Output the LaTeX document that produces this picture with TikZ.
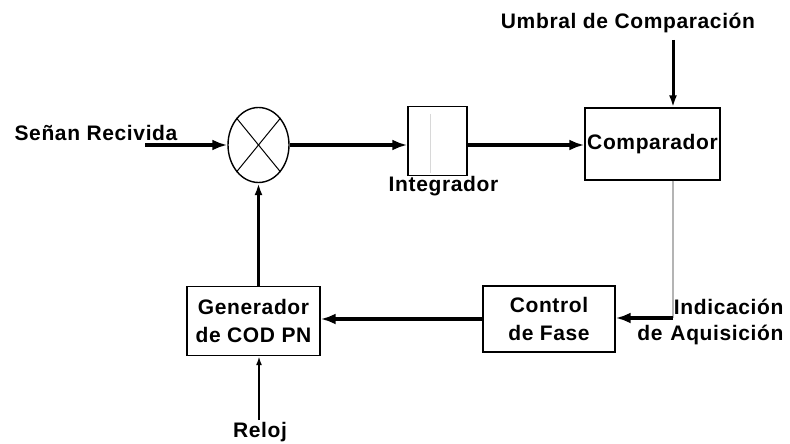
\documentclass[tikz,border=0pt]{standalone}
\usepackage{fontspec}
\setmainfont[LetterSpace=3]{Liberation Sans}
\usetikzlibrary{arrows.meta,positioning,shapes.geometric}
\definecolor{dgGray}{HTML}{B4B4B4}
\definecolor{dgFaint}{HTML}{D8D8D8}

\begin{document}
\begin{tikzpicture}[x=1pt, y=-1pt, font=\bfseries\fontsize{21}{28}\selectfont,
    blockbox/.style={draw, line width=1.4pt, align=center, inner sep=2pt},
    sig/.style={line width=4.5pt, -{Latex[length=15pt,width=11pt]}},
    sigthin/.style={line width=3pt, -{Latex[length=12pt,width=8pt]}}]
  \useasboundingbox (0,0) rectangle (790,444);
  \node[draw, line width=1.4pt, ellipse, minimum width=61pt, minimum height=75pt] (mix) at (258.5,145) {};
  \draw[line width=1pt] (mix.north west) -- (mix.south east);
  \draw[line width=1pt] (mix.north east) -- (mix.south west);
  \node[blockbox, minimum width=59pt, minimum height=69pt] (int) at (437.5,141) {};
  \draw[dgFaint, line width=1pt] ([xshift=-7pt,yshift=-8pt]int.north) -- ([xshift=-7pt,yshift=3pt]int.south);
  \node[below=-3pt of int, xshift=6pt] (intlbl) {Integrador};
  \node[blockbox, minimum width=135pt, minimum height=72pt] (comp) at (652.5,144) {Comparador};
  \node[blockbox, minimum width=132pt, minimum height=66pt] (fase) at (549,319) {Control\\de Fase};
  \node[blockbox, minimum width=133pt, minimum height=69pt] (gen) at (253.5,321) {Generador\\de COD PN};
  \node (senal) at (96,133) {Señan Recivida};
  \node (umbral) at (628,23) {Umbral de Comparación};
  \node (reloj) at (260,432) {Reloj};
  \node[align=right, anchor=east, font=\bfseries\fontsize{21}{26}\selectfont] (indic) at (787,322) {Indicación\\de\hspace{1.5pt} Aquisición};
  \coordinate (sin) at (145,145);
  \coordinate (umb) at (673,40);
  \coordinate (corner) at (673,318);
  \coordinate (clk) at (259,420);
  \draw[sig] (sin) -- (mix.west);
  \draw[sig] (mix.east) -- (mix.east -| int.west);
  \draw[sig] (mix.east -| int.east) -- (mix.east -| comp.west);
  \draw[sigthin] (umb) -- (umb |- comp.north);
  \draw[dgGray, line width=2.5pt] (umb |- comp.south) -- (corner);
  \draw[sig] (corner) -- (corner -| fase.east);
  \draw[sig] (fase.west) -- (fase.west -| gen.east);
  \draw[sigthin] (gen.north -| mix.south) -- (mix.south);
  \draw[line width=2.5pt, -{Latex[length=9pt,width=6pt]}] (clk) -- (clk |- gen.south);
\end{tikzpicture}
\end{document}
